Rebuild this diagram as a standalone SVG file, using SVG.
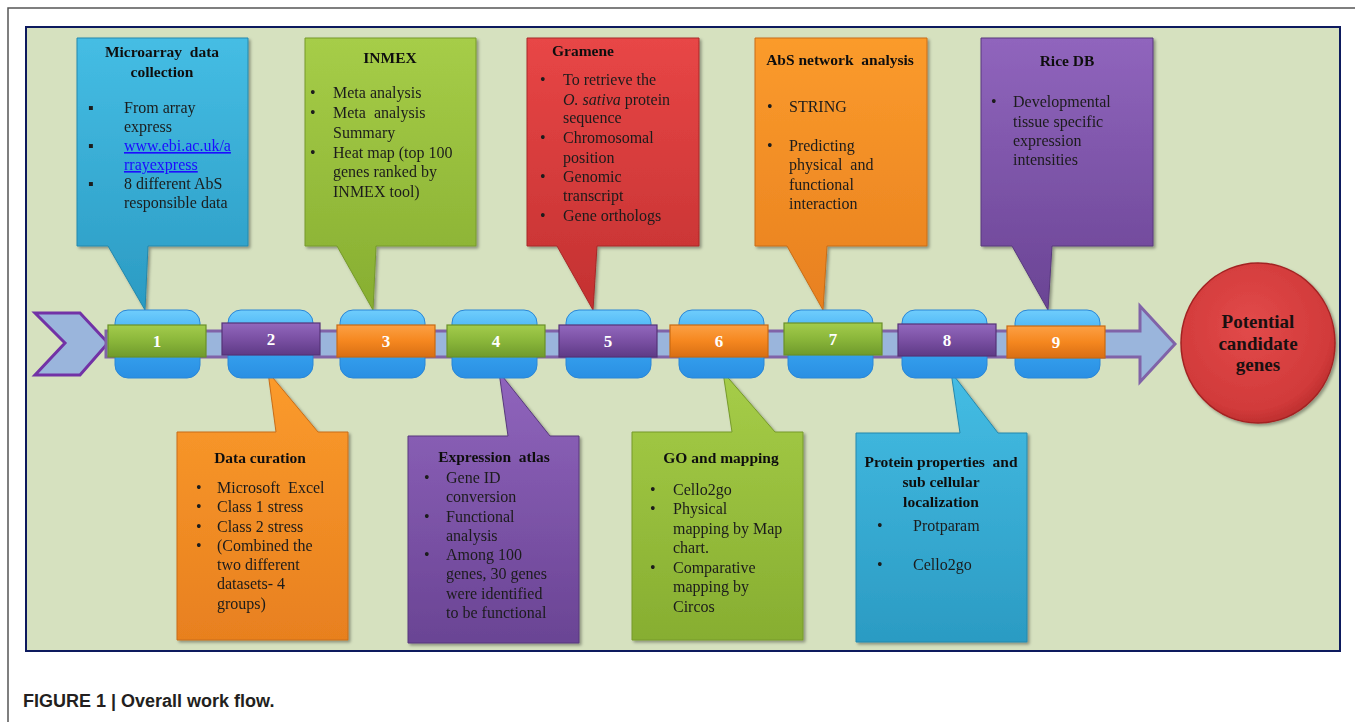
<svg xmlns="http://www.w3.org/2000/svg" width="1355" height="722" viewBox="0 0 1355 722">
<defs>
<linearGradient id="gBlue" x1="0" y1="0" x2="0" y2="1"><stop offset="0" stop-color="#45bde4"/><stop offset="1" stop-color="#2b9bc3"/></linearGradient>
<linearGradient id="gGreen" x1="0" y1="0" x2="0" y2="1"><stop offset="0" stop-color="#a6cd48"/><stop offset="1" stop-color="#87ae31"/></linearGradient>
<linearGradient id="gRed" x1="0" y1="0" x2="0" y2="1"><stop offset="0" stop-color="#e84646"/><stop offset="1" stop-color="#c33131"/></linearGradient>
<linearGradient id="gOrange" x1="0" y1="0" x2="0" y2="1"><stop offset="0" stop-color="#fb9b2c"/><stop offset="1" stop-color="#e8801f"/></linearGradient>
<linearGradient id="gPurple" x1="0" y1="0" x2="0" y2="1"><stop offset="0" stop-color="#9065bd"/><stop offset="1" stop-color="#6a4494"/></linearGradient>
<linearGradient id="nGreen" x1="0" y1="0" x2="0" y2="1"><stop offset="0" stop-color="#a3cc4c"/><stop offset="0.5" stop-color="#8ab63a"/><stop offset="1" stop-color="#6f9a2c"/></linearGradient>
<linearGradient id="nPurple" x1="0" y1="0" x2="0" y2="1"><stop offset="0" stop-color="#9268bd"/><stop offset="0.5" stop-color="#7a50a3"/><stop offset="1" stop-color="#5e3a86"/></linearGradient>
<linearGradient id="nOrange" x1="0" y1="0" x2="0" y2="1"><stop offset="0" stop-color="#fca044"/><stop offset="0.5" stop-color="#f5871f"/><stop offset="1" stop-color="#d86e14"/></linearGradient>
<linearGradient id="gGloss" x1="0" y1="0" x2="0" y2="1"><stop offset="0" stop-color="#6fcdfc"/><stop offset="0.45" stop-color="#3aa8f2"/><stop offset="1" stop-color="#2a8fe3"/></linearGradient>
<radialGradient id="gBall" cx="0.45" cy="0.4" r="0.65"><stop offset="0" stop-color="#e24a4a"/><stop offset="0.8" stop-color="#d13a3a"/><stop offset="1" stop-color="#b52a2a"/></radialGradient>
<filter id="sh" x="-10%" y="-10%" width="130%" height="130%"><feDropShadow dx="2" dy="2" stdDeviation="1.5" flood-color="#000" flood-opacity="0.35"/></filter>
<style>
text{white-space:pre}
.t{font-family:"Liberation Serif","Times New Roman",serif;font-size:16px;fill:#1c1c1c}
.h{font-family:"Liberation Serif","Times New Roman",serif;font-size:15.5px;font-weight:bold;fill:#111;text-anchor:middle}
.n{font-family:"Liberation Serif","Times New Roman",serif;font-size:17px;font-weight:bold;fill:#fff;text-anchor:middle}
.c{font-family:"Liberation Serif","Times New Roman",serif;font-size:19px;font-weight:bold;fill:#1a1010;text-anchor:middle}
.co{filter:url(#sh)}
.gl{fill:url(#gGloss);stroke:#2a86d6;stroke-width:1}
.nb{stroke-width:1.2}
.lk{fill:#1a0dff;text-decoration:underline}
</style>
</defs>
<rect x="0" y="0" width="1355" height="722" fill="#fff"/>
<path d="M8 722 V8 H1355" fill="none" stroke="#555" stroke-width="1.5"/>
<rect x="26" y="27" width="1314" height="624" fill="#d6e1bf" stroke="#0d1a5e" stroke-width="2"/>

<g id="callout-1" class="co">
<path d="M77 38 H248 V246 H148 L145 310 L108 246 H77 Z" fill="url(#gBlue)" stroke="#2488ad" stroke-width="1"/>
<text class="h" x="162" y="57">Microarray  data</text>
<text class="h" x="162" y="77">collection</text>
<text class="t" x="88" y="113">▪</text><text class="t" x="124" y="113">From array</text>
<text class="t" x="124" y="132">express</text>
<text class="t" x="88" y="151">▪</text><text class="t lk" x="124" y="151">www.ebi.ac.uk/a</text>
<text class="t lk" x="124" y="170">rrayexpress</text>
<text class="t" x="88" y="189">▪</text><text class="t" x="124" y="189">8 different AbS</text>
<text class="t" x="124" y="208">responsible data</text>
</g>

<g id="callout-3" class="co">
<path d="M305 38 H476 V246 H376 L373 310 L337 246 H305 Z" fill="url(#gGreen)" stroke="#769a2a" stroke-width="1"/>
<text class="h" x="390" y="63">INMEX</text>
<text class="t" x="310" y="98">•</text><text class="t" x="333" y="98">Meta analysis</text>
<text class="t" x="310" y="118">•</text><text class="t" x="333" y="118">Meta  analysis</text>
<text class="t" x="333" y="138">Summary</text>
<text class="t" x="310" y="158">•</text><text class="t" x="333" y="158">Heat map (top 100</text>
<text class="t" x="333" y="177">genes ranked by</text>
<text class="t" x="333" y="197">INMEX tool)</text>
</g>

<g id="callout-5" class="co">
<path d="M527 38 H699 V246 H597 L593 310 L557 246 H527 Z" fill="url(#gRed)" stroke="#a82828" stroke-width="1"/>
<text class="h" x="583" y="56">Gramene</text>
<text class="t" x="540" y="85">•</text><text class="t" x="563" y="85">To retrieve the</text>
<text class="t" x="563" y="105"><tspan font-style="italic">O. sativa</tspan> protein</text>
<text class="t" x="563" y="123">sequence</text>
<text class="t" x="540" y="143">•</text><text class="t" x="563" y="143">Chromosomal</text>
<text class="t" x="563" y="163">position</text>
<text class="t" x="540" y="182">•</text><text class="t" x="563" y="182">Genomic</text>
<text class="t" x="563" y="201">transcript</text>
<text class="t" x="540" y="221">•</text><text class="t" x="563" y="221">Gene orthologs</text>
</g>

<g id="callout-7" class="co">
<path d="M755 38 H927 V246 H827 L823 310 L787 246 H755 Z" fill="url(#gOrange)" stroke="#c86d18" stroke-width="1"/>
<text class="h" x="840" y="65">AbS network  analysis</text>
<text class="t" x="767" y="112">•</text><text class="t" x="789" y="112">STRING</text>
<text class="t" x="767" y="151">•</text><text class="t" x="789" y="151">Predicting</text>
<text class="t" x="789" y="170">physical  and</text>
<text class="t" x="789" y="190">functional</text>
<text class="t" x="789" y="209">interaction</text>
</g>

<g id="callout-9" class="co">
<path d="M981 38 H1153 V246 H1052 L1048 310 L1012 246 H981 Z" fill="url(#gPurple)" stroke="#58397d" stroke-width="1"/>
<text class="h" x="1067" y="66">Rice DB</text>
<text class="t" x="991" y="107">•</text><text class="t" x="1013" y="107">Developmental</text>
<text class="t" x="1013" y="127">tissue specific</text>
<text class="t" x="1013" y="146">expression</text>
<text class="t" x="1013" y="165">intensities</text>
</g>

<g id="callout-2" class="co">
<path d="M177 432 H276 L268 372 L318 432 H348 V640 H177 Z" fill="url(#gOrange)" stroke="#c86d18" stroke-width="1"/>
<text class="h" x="260" y="463">Data curation</text>
<text class="t" x="196" y="493">•</text><text class="t" x="217" y="493">Microsoft  Excel</text>
<text class="t" x="196" y="512">•</text><text class="t" x="217" y="512">Class 1 stress</text>
<text class="t" x="196" y="532">•</text><text class="t" x="217" y="532">Class 2 stress</text>
<text class="t" x="196" y="551">•</text><text class="t" x="217" y="551">(Combined the</text>
<text class="t" x="217" y="570">two different</text>
<text class="t" x="217" y="589">datasets- 4</text>
<text class="t" x="217" y="609">groups)</text>
</g>

<g id="callout-4" class="co">
<path d="M408 436 H508 L499 372 L550 436 H579 V643 H408 Z" fill="url(#gPurple)" stroke="#58397d" stroke-width="1"/>
<text class="h" x="494" y="462">Expression  atlas</text>
<text class="t" x="424" y="483">•</text><text class="t" x="446" y="483">Gene ID</text>
<text class="t" x="446" y="502">conversion</text>
<text class="t" x="424" y="522">•</text><text class="t" x="446" y="522">Functional</text>
<text class="t" x="446" y="541">analysis</text>
<text class="t" x="424" y="560">•</text><text class="t" x="446" y="560">Among 100</text>
<text class="t" x="446" y="579">genes, 30 genes</text>
<text class="t" x="446" y="599">were identified</text>
<text class="t" x="446" y="618">to be functional</text>
</g>

<g id="callout-6" class="co">
<path d="M632 432 H732 L723 372 L775 432 H803 V640 H632 Z" fill="url(#gGreen)" stroke="#769a2a" stroke-width="1"/>
<text class="h" x="721" y="463">GO and mapping</text>
<text class="t" x="650" y="495">•</text><text class="t" x="673" y="495">Cello2go</text>
<text class="t" x="650" y="514">•</text><text class="t" x="673" y="514">Physical</text>
<text class="t" x="673" y="534">mapping by Map</text>
<text class="t" x="673" y="553">chart.</text>
<text class="t" x="650" y="573">•</text><text class="t" x="673" y="573">Comparative</text>
<text class="t" x="673" y="592">mapping by</text>
<text class="t" x="673" y="612">Circos</text>
</g>

<g id="callout-8" class="co">
<path d="M856 433 H960 L951 372 L998 433 H1027 V642 H856 Z" fill="url(#gBlue)" stroke="#2488ad" stroke-width="1"/>
<text class="h" x="941" y="467">Protein properties  and</text>
<text class="h" x="941" y="487">sub cellular</text>
<text class="h" x="941" y="507">localization</text>
<text class="t" x="877" y="531">•</text><text class="t" x="913" y="531">Protparam</text>
<text class="t" x="877" y="570">•</text><text class="t" x="913" y="570">Cello2go</text>
</g>

<g id="connectors">
<polygon points="35,313 80,313 108,343 80,375 35,375 65,343" fill="#9ab5dc" stroke="#7232a6" stroke-width="3" stroke-linejoin="miter"/>
<polygon points="106,331 1140,331 1140,306 1175,344 1140,382 1140,357 106,357" fill="#9ab5dc" stroke="#8063a8" stroke-width="3"/>
</g>

<g id="step-1"><rect class="gl" x="115" y="310" width="85" height="68" rx="13"/><rect class="nb" x="108" y="325" width="98" height="32" fill="url(#nGreen)" stroke="#6a9028"/><text class="n" x="157" y="347">1</text></g>
<g id="step-2"><rect class="gl" x="228" y="310" width="85" height="68" rx="13"/><rect class="nb" x="222" y="323" width="98" height="32" fill="url(#nPurple)" stroke="#553377"/><text class="n" x="271" y="345">2</text></g>
<g id="step-3"><rect class="gl" x="340" y="310" width="85" height="68" rx="13"/><rect class="nb" x="337" y="325" width="98" height="32" fill="url(#nOrange)" stroke="#c86912"/><text class="n" x="386" y="347">3</text></g>
<g id="step-4"><rect class="gl" x="452" y="310" width="85" height="68" rx="13"/><rect class="nb" x="447" y="325" width="98" height="32" fill="url(#nGreen)" stroke="#6a9028"/><text class="n" x="496" y="347">4</text></g>
<g id="step-5"><rect class="gl" x="566" y="310" width="85" height="68" rx="13"/><rect class="nb" x="559" y="325" width="98" height="32" fill="url(#nPurple)" stroke="#553377"/><text class="n" x="608" y="347">5</text></g>
<g id="step-6"><rect class="gl" x="679" y="310" width="85" height="68" rx="13"/><rect class="nb" x="670" y="325" width="98" height="32" fill="url(#nOrange)" stroke="#c86912"/><text class="n" x="719" y="347">6</text></g>
<g id="step-7"><rect class="gl" x="788" y="310" width="85" height="68" rx="13"/><rect class="nb" x="784" y="323" width="98" height="32" fill="url(#nGreen)" stroke="#6a9028"/><text class="n" x="833" y="345">7</text></g>
<g id="step-8"><rect class="gl" x="902" y="310" width="85" height="68" rx="13"/><rect class="nb" x="898" y="324" width="98" height="32" fill="url(#nPurple)" stroke="#553377"/><text class="n" x="947" y="346">8</text></g>
<g id="step-9"><rect class="gl" x="1015" y="310" width="85" height="68" rx="13"/><rect class="nb" x="1007" y="326" width="98" height="32" fill="url(#nOrange)" stroke="#c86912"/><text class="n" x="1056" y="348">9</text></g>

<g id="result">
<ellipse cx="1258" cy="343" rx="77" ry="80" fill="url(#gBall)" stroke="#a32323" stroke-width="1.5" filter="url(#sh)"/>
<text class="c" x="1258" y="328">Potential</text>
<text class="c" x="1258" y="350">candidate</text>
<text class="c" x="1258" y="371">genes</text>
</g>

<text x="23" y="707" font-family="Liberation Sans, Arial, sans-serif" font-size="18" font-weight="bold" fill="#231f20">FIGURE 1 | Overall work flow.</text>
</svg>
